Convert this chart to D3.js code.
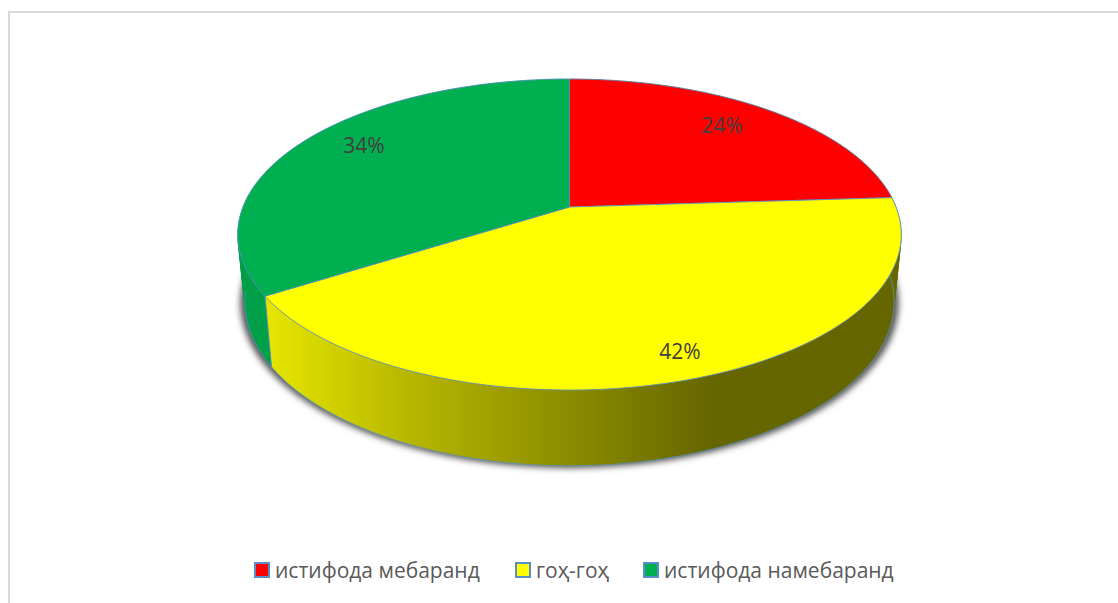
<!DOCTYPE html>
<html>
<head>
<meta charset="utf-8">
<script src="https://cdnjs.cloudflare.com/ajax/libs/d3/7.8.5/d3.min.js"></script>
<style>
html, body { margin: 0; padding: 0; background: #fff; }
svg { display: block; font-family: "Open Sans", "Noto Sans", sans-serif; }
</style>
</head>
<body>
<div class="chart"></div>
<script>
// Chart data
let categories = ['истифода мебаранд', 'гоҳ-гоҳ', 'истифода намебаранд'];
let values = [24, 42, 34];
let colors = ['#ff0000', '#ffff00', '#00b050'];
let labelText = ['24%', '42%', '34%'];

let width = 1118;
let height = 603;
let edgeColor = '#5b8fc9';

let svg = d3.select('.chart')
    .append('svg')
    .attr('width', width)
    .attr('height', height);

// Chart frame, only the top and left edges are in view
svg.append('path')
    .attr('d', d3.line()([[9, height], [9, 12], [width, 12]]))
    .attr('fill', 'none')
    .attr('stroke', '#d9d9d9')
    .attr('stroke-width', 2);

// Perspective projection of the unit circle onto the tilted disc
function projector(cx, cy, a, b, k) {
    return function (angle) {
        let u = Math.sin(angle);
        let v = -Math.cos(angle);
        let d = 1 + k * v;
        return [cx + a * u / d, cy + b * v / d];
    };
}
let center = [569.5, 207];
let topRim = projector(center[0], center[1], 326.5, 150.6, -0.177);
let lowRim = projector(center[0], 272.6, 319.5, 159, -0.177);
let shadowRim = projector(center[0], 273.5, 324, 160, -0.177);

let pie = d3.pie().sort(null).value(d => d);
let arcs = pie(values);

function rimAngles(a0, a1) {
    return d3.range(0, 121).map(i => a0 + (a1 - a0) * i / 120);
}

let defs = svg.append('defs');

defs.append('filter')
    .attr('id', 'shadow')
    .attr('x', '-10%').attr('y', '-10%')
    .attr('width', '120%').attr('height', '120%')
    .append('feGaussianBlur')
    .attr('stdDeviation', 3);

// Yellow wall goes dark from left to right
let grad = defs.append('linearGradient')
    .attr('id', 'wallYellow')
    .attr('gradientUnits', 'userSpaceOnUse')
    .attr('x1', 273).attr('x2', 710)
    .attr('y1', 0).attr('y2', 0);
grad.append('stop').attr('offset', '0%').attr('stop-color', '#e4e400');
grad.append('stop').attr('offset', '30%').attr('stop-color', '#b8b800');
grad.append('stop').attr('offset', '100%').attr('stop-color', '#666600');

let line = d3.line();

// Soft shadow behind the body
svg.append('path')
    .attr('d', line(rimAngles(0, 2 * Math.PI).map(shadowRim)) + 'Z')
    .attr('fill', '#555555')
    .attr('filter', 'url(#shadow)');

// Wall of one slice as small quads, all wound the same way so they never cancel out
function wallPath(d) {
    let angles = rimAngles(d.startAngle, d.endAngle);
    return d3.pairs(angles).map(p => {
        let quad = [topRim(p[0]), topRim(p[1]), lowRim(p[1]), lowRim(p[0])];
        if (d3.polygonArea(quad) < 0) quad.reverse();
        return line(quad) + 'Z';
    }).join('');
}

let wallFill = ['#666600', 'url(#wallYellow)', '#00a049'];
svg.selectAll('path.wall')
    .data(arcs)
    .enter()
    .append('path')
    .attr('class', 'wall')
    .attr('d', wallPath)
    .attr('fill', (d, i) => wallFill[i])
    .attr('stroke', (d, i) => wallFill[i])
    .attr('stroke-width', 0.4);

// Lower rim and the seam between yellow and green
svg.append('path')
    .attr('d', line(rimAngles(arcs[0].endAngle - 0.25, arcs[2].startAngle + 0.45).map(lowRim)))
    .attr('fill', 'none')
    .attr('stroke', edgeColor)
    .attr('stroke-width', 0.8);
svg.append('path')
    .attr('d', line([topRim(arcs[1].endAngle), lowRim(arcs[1].endAngle)]))
    .attr('stroke', edgeColor)
    .attr('stroke-width', 0.8);

// Top face
svg.selectAll('path.slice')
    .data(arcs)
    .enter()
    .append('path')
    .attr('class', 'slice')
    .attr('d', d => line([center].concat(rimAngles(d.startAngle, d.endAngle).map(topRim))) + 'Z')
    .attr('fill', (d, i) => colors[i])
    .attr('stroke', edgeColor)
    .attr('stroke-width', 0.8);

// Data labels
let labelX = d3.scaleOrdinal().domain(categories).range([722, 680, 364]);
let labelY = d3.scaleOrdinal().domain(categories).range([126, 352, 146]);
svg.selectAll('text.label')
    .data(categories)
    .enter()
    .append('text')
    .attr('class', 'label')
    .attr('x', d => labelX(d))
    .attr('y', d => labelY(d))
    .attr('dy', '0.35em')
    .attr('text-anchor', 'middle')
    .attr('font-size', 21)
    .attr('fill', '#404040')
    .text((d, i) => labelText[i]);

// Legend
let legendX = d3.scaleOrdinal().domain(categories).range([255, 516, 644]);
let legend = svg.selectAll('g.legend')
    .data(categories)
    .enter()
    .append('g')
    .attr('class', 'legend')
    .attr('transform', d => `translate(${legendX(d)}, 563)`);
legend.append('rect')
    .attr('width', 14)
    .attr('height', 14)
    .attr('fill', (d, i) => colors[i])
    .attr('stroke', edgeColor)
    .attr('stroke-width', 2);
legend.append('text')
    .attr('x', 20)
    .attr('y', 15)
    .attr('font-size', 21)
    .attr('fill', '#595959')
    .text(d => d);
</script>
</body>
</html>
